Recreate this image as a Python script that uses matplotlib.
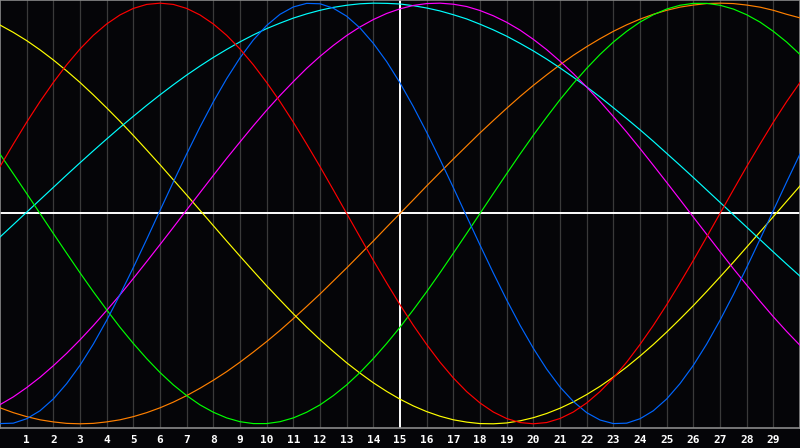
import numpy as np
import matplotlib.pyplot as plt

# --- Data: cycle values (percent) read every half day, day 0..30 ---
days = np.arange(0, 30.5, 0.5)

blue = [-99.9, -99.7, -97.6, -93.8, -88.2, -80.9, -72.2, -62.1, -50.8, -38.6,
        -25.7, -12.3, 1.4, 15.0, 28.3, 41.1, 53.1, 64.1, 74.0, 82.5,
        89.4, 94.7, 98.2, 99.9, 99.7, 97.6, 93.8, 88.2, 80.9, 72.2,
        62.1, 50.8, 38.6, 25.7, 12.3, -1.4, -15.0, -28.3, -41.1, -53.1,
        -64.1, -74.0, -82.5, -89.4, -94.7, -98.2, -99.9, -99.7, -97.6, -93.8,
        -88.2, -80.9, -72.2, -62.1, -50.8, -38.6, -25.7, -12.3, 1.4, 15.0,
        28.3]
red = [22.3, 33.0, 43.4, 53.2, 62.3, 70.7, 78.2, 84.7, 90.1, 94.4,
       97.5, 99.4, 100.0, 99.4, 97.5, 94.4, 90.1, 84.7, 78.2, 70.7,
       62.3, 53.2, 43.4, 33.0, 22.3, 11.2, 0.0, -11.2, -22.3, -33.0,
       -43.4, -53.2, -62.3, -70.7, -78.2, -84.7, -90.1, -94.4, -97.5, -99.4,
       -100.0, -99.4, -97.5, -94.4, -90.1, -84.7, -78.2, -70.7, -62.3, -53.2,
       -43.4, -33.0, -22.3, -11.2, 0.0, 11.2, 22.3, 33.0, 43.4, 53.2,
       62.3]
green = [28.2, 18.9, 9.5, 0.0, -9.5, -18.9, -28.2, -37.2, -45.8, -54.1,
         -61.8, -69.0, -75.6, -81.5, -86.6, -91.0, -94.5, -97.2, -99.0, -99.9,
         -99.9, -99.0, -97.2, -94.5, -91.0, -86.6, -81.5, -75.6, -69.0, -61.8,
         -54.1, -45.8, -37.2, -28.2, -18.9, -9.5, 0.0, 9.5, 18.9, 28.2,
         37.2, 45.8, 54.1, 61.8, 69.0, 75.6, 81.5, 86.6, 91.0, 94.5,
         97.2, 99.0, 99.9, 99.9, 99.0, 97.2, 94.5, 91.0, 86.6, 81.5,
         75.6]
orange = [-92.4, -94.7, -96.6, -98.1, -99.1, -99.8, -100.0, -99.8, -99.1, -98.1,
          -96.6, -94.7, -92.4, -89.7, -86.6, -83.1, -79.3, -75.2, -70.7, -65.9,
          -60.9, -55.6, -50.0, -44.2, -38.3, -32.1, -25.9, -19.5, -13.1, -6.5,
          0.0, 6.5, 13.1, 19.5, 25.9, 32.1, 38.3, 44.2, 50.0, 55.6,
          60.9, 65.9, 70.7, 75.2, 79.3, 83.1, 86.6, 89.7, 92.4, 94.7,
          96.6, 98.1, 99.1, 99.8, 100.0, 99.8, 99.1, 98.1, 96.6, 94.7,
          93.0]
magenta = [-90.9, -87.2, -82.8, -77.9, -72.4, -66.5, -60.1, -53.3, -46.1, -38.7,
           -30.9, -22.9, -14.8, -6.6, 1.7, 9.9, 18.1, 26.2, 34.0, 41.7,
           49.1, 56.1, 62.7, 69.0, 74.7, 79.9, 84.6, 88.7, 92.2, 95.1,
           97.3, 98.9, 99.8, 100.0, 99.5, 98.4, 96.5, 94.0, 90.9, 87.2,
           82.8, 77.9, 72.4, 66.5, 60.1, 53.3, 46.1, 38.7, 30.9, 22.9,
           14.8, 6.6, -1.7, -9.9, -18.1, -26.2, -34.0, -41.7, -49.1, -56.1,
           -62.7]
cyan = [-11.2, -5.3, 0.6, 6.5, 12.4, 18.3, 24.1, 29.8, 35.4, 40.9,
        46.2, 51.4, 56.4, 61.2, 65.8, 70.1, 74.2, 78.0, 81.6, 84.9,
        87.9, 90.5, 92.9, 94.9, 96.6, 98.0, 99.0, 99.7, 100.0, 99.9,
        99.6, 98.8, 97.7, 96.3, 94.5, 92.5, 90.0, 87.3, 84.3, 80.9,
        77.3, 73.4, 69.2, 64.8, 60.2, 55.4, 50.3, 45.1, 39.8, 34.3,
        28.6, 22.9, 17.1, 11.2, 5.3, -0.6, -6.5, -12.4, -18.3, -24.1,
        -29.8]
yellow = [89.6, 86.1, 82.2, 77.8, 73.0, 67.8, 62.3, 56.4, 50.2, 43.8,
          37.1, 30.2, 23.2, 16.0, 8.8, 1.5, -5.8, -13.1, -20.3, -27.4,
          -34.4, -41.1, -47.7, -54.0, -60.0, -65.6, -71.0, -75.9, -80.5, -84.6,
          -88.3, -91.5, -94.2, -96.4, -98.1, -99.2, -99.9, -100.0, -99.6, -98.6,
          -97.1, -95.1, -92.6, -89.6, -86.1, -82.2, -77.8, -73.0, -67.8, -62.3,
          -56.4, -50.2, -43.8, -37.1, -30.2, -23.2, -16.0, -8.8, -1.5, 5.8,
          13.1]

series = [
    (orange, "#ff8000"),
    (yellow, "#ffff00"),
    (cyan, "#00ffff"),
    (magenta, "#ff00ff"),
    (green, "#00ff00"),
    (blue, "#0066ff"),
    (red, "#ff0000"),
]

tick_days = list(range(1, 30))
today = 15

# --- Figure ---
fig = plt.figure(figsize=(8, 4.48), dpi=100, facecolor="#050508")
ax = fig.add_axes([0, 20 / 448, 1, 428 / 448])
ax.set_facecolor("#050508")

# day grid
for d in tick_days:
    if d == today:
        continue
    ax.axvline(d, color="#3a3a3a", linewidth=0.9, zorder=1)

ax.axhline(0, color="white", linewidth=1.4, zorder=2)
ax.axvline(today, color="white", linewidth=1.4, zorder=2)

for vals, col in series:
    ax.plot(days, vals, color=col, linewidth=0.85, zorder=3)

ax.set_xlim(0, 30)
ax.set_ylim(-102, 101.5)
ax.set_xticks([])
ax.set_yticks([])
for sp in ax.spines.values():
    sp.set_color("#8a8a8a")
    sp.set_linewidth(1.2)

# day labels under the plot
for d in tick_days:
    fig.text(d / 30, 8.5 / 448, str(d), color="white", ha="center", va="center",
             fontsize=8, fontweight="bold", family="DejaVu Sans Mono")

fig.savefig("out.png", dpi=100, facecolor=fig.get_facecolor())
